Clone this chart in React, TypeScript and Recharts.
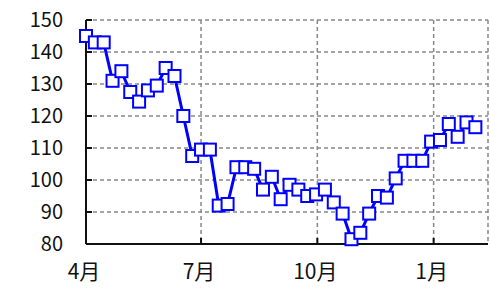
import { LineChart, Line, XAxis, YAxis, CartesianGrid } from "recharts";

// weekly readings, first one on 4/1
const values = [
  145, 143, 143, 131, 134, 127.5, 124.5, 128, 129.5, 135, 132.5, 120, 107.5,
  109.5, 109.5, 92, 92.5, 104, 104, 103.5, 97, 101, 94, 98.5, 97, 95, 95.5,
  97, 93, 89.5, 81.5, 83.5, 89.5, 95, 94.5, 100.5, 106, 106, 106, 112, 112.5,
  117.5, 113.5, 118, 116.5,
];
const weekDays = values.map((_, i) => i * 7);

const monthTicks = [0, 91, 183, 275];
const monthLabels = ["4月", "7月", "10月", "1月"];
const yTicks = [80, 90, 100, 110, 120, 130, 140, 150];

const data = values.map((v, i) => ({ day: weekDays[i], value: v }));

const font = "'Noto Sans CJK JP', 'Noto Sans', sans-serif";

const SquareDot = (props: any) => {
  const { cx, cy, index } = props;
  if (cx == null || cy == null) return null;
  return (
    <rect
      key={"dot-" + index}
      x={cx - 6}
      y={cy - 6}
      width={12}
      height={12}
      fill="#ffffff"
      stroke="#0000ff"
      strokeWidth={2}
    />
  );
};

const App = () => {
  return (
    <div style={{ position: "absolute", left: 0, top: 0, background: "#fff" }}>
      <LineChart
        width={490}
        height={288}
        data={data}
        margin={{ top: 20, right: 2, left: 0, bottom: 0 }}
      >
        <CartesianGrid
          stroke="#888"
          strokeDasharray="4 3"
          strokeWidth={1.5}
        />
        <XAxis
          dataKey="day"
          type="number"
          domain={[0, 318]}
          ticks={monthTicks}
          tickFormatter={(d: number) => monthLabels[monthTicks.indexOf(d)] ?? ""}
          height={44}
          axisLine={{ stroke: "#111", strokeWidth: 2 }}
          tickLine={{ stroke: "#111", strokeWidth: 2 }}
          tickSize={-6}
          tickMargin={26}
          tick={{ fontSize: 21, fill: "#111", fontFamily: font, dx: -2 }}
          interval={0}
        />
        <YAxis
          domain={[80, 150]}
          ticks={yTicks}
          width={86}
          axisLine={{ stroke: "#111", strokeWidth: 2 }}
          tickLine={{ stroke: "#111", strokeWidth: 2 }}
          tickSize={-6}
          tickMargin={29}
          tick={{ fontSize: 20, fill: "#111", fontFamily: font }}
          interval={0}
        />
        <Line
          dataKey="value"
          stroke="#0000ff"
          strokeWidth={3}
          type="linear"
          dot={SquareDot}
          isAnimationActive={false}
        />
      </LineChart>
    </div>
  );
};

export default App;
